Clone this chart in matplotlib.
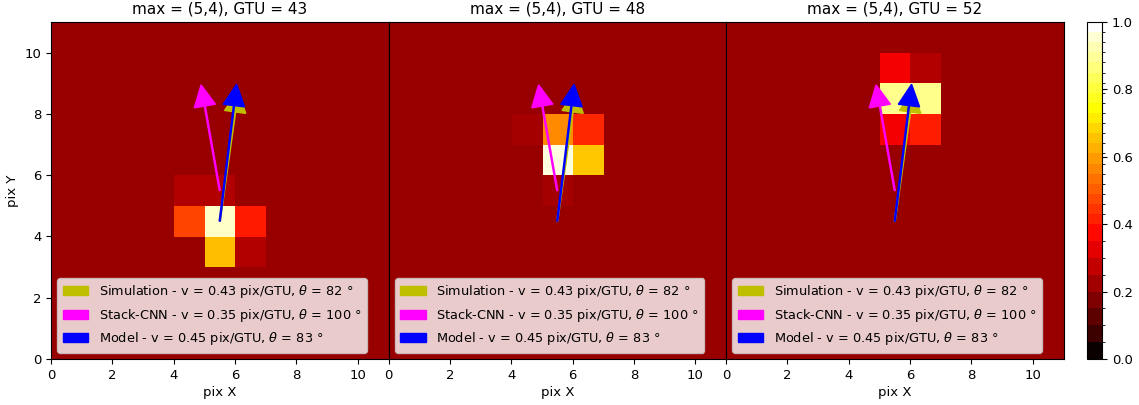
import numpy as np
import matplotlib
matplotlib.use("Agg")
import matplotlib.pyplot as plt
from matplotlib.colors import ListedColormap, BoundaryNorm
from matplotlib.cm import ScalarMappable

# ---- data ----
titles = ["max = (5,4), GTU = 43", "max = (5,4), GTU = 48", "max = (5,4), GTU = 52"]
grid_size = 11
background = 0.213
# (x, y, value) cells above background per panel
cells_43 = [(4, 5, 0.253), (5, 5, 0.253),
            (4, 4, 0.468), (5, 4, 0.945), (6, 4, 0.405),
            (5, 3, 0.649), (6, 3, 0.253)]
cells_48 = [(4, 7, 0.232), (5, 7, 0.574), (6, 7, 0.425),
            (5, 6, 0.965), (6, 6, 0.664),
            (5, 5, 0.232)]
cells_52 = [(5, 9, 0.350), (6, 9, 0.253),
            (5, 8, 0.885), (6, 8, 0.885),
            (5, 7, 0.350), (6, 7, 0.410)]
panels = [cells_43, cells_48, cells_52]

arrow_names = ["Simulation", "Stack-CNN", "Model"]
arrow_v = [0.43, 0.35, 0.45]          # pix/GTU
arrow_theta = [82, 100, 83]           # degrees
arrow_start_x = [5.5, 5.5, 5.5]
arrow_start_y = [4.5, 5.5, 4.5]
arrow_colors = ["y", "magenta", "blue"]
arrow_scale = 10.0

# colorbar boundaries (stepped)
cb_bounds = list(np.round(np.arange(0, 0.4001, 0.05), 3)) + \
            list(np.round(np.arange(0.43, 1.0001, 0.03), 3))

# ---- figure ----
W, H = 1139, 405
fig = plt.figure(figsize=(W / 100, H / 100), dpi=100)

left0 = 51 / W
pw = 337.5 / W
bottom = (H - 359) / H
ph = 337 / H

hot = plt.get_cmap("hot")
for i, cells in enumerate(panels):
    ax = fig.add_axes([left0 + i * pw, bottom, pw, ph])
    img = np.full((grid_size, grid_size), background)
    for (cx, cy, val) in cells:
        img[cy, cx] = val
    ax.imshow(img, cmap=hot, vmin=0, vmax=1, origin="lower",
              extent=[0, grid_size, 0, grid_size], interpolation="nearest",
              aspect="auto")
    handles = []
    for name, v, th, sx, sy, c in zip(arrow_names, arrow_v, arrow_theta,
                                      arrow_start_x, arrow_start_y, arrow_colors):
        L = v * arrow_scale
        dx = L * np.cos(np.deg2rad(th))
        dy = L * np.sin(np.deg2rad(th))
        h = ax.arrow(sx, sy, dx, dy, width=0.035, head_width=0.7, head_length=0.7,
                     length_includes_head=True, color=c,
                     label=f"{name} - v = {v:.2f} pix/GTU, $\\theta$ = {th} °")
        handles.append(h)
    ax.legend(handles=handles, loc="lower left", fontsize=9.3)
    ax.set_xlim(0, grid_size)
    ax.set_ylim(0, grid_size)
    ax.set_xticks([0, 2, 4, 6, 8, 10])
    ax.tick_params(labelsize=9.5)
    ax.set_title(titles[i], fontsize=11)
    ax.set_xlabel("pix X", fontsize=9.5, labelpad=3)
    if i == 0:
        ax.set_ylabel("pix Y", fontsize=9.5)
        ax.set_yticks([0, 2, 4, 6, 8, 10])
    else:
        ax.set_yticks([])

# stepped colorbar
centers = [(a + b) / 2 for a, b in zip(cb_bounds[:-1], cb_bounds[1:])]
centers[0] = 0.0
centers[-1] = 1.0
cb_cmap = ListedColormap([hot(c) for c in centers])
cb_norm = BoundaryNorm(cb_bounds, cb_cmap.N)
cax = fig.add_axes([1087 / W, bottom, 15 / W, ph])
sm = ScalarMappable(norm=cb_norm, cmap=cb_cmap)
cb = fig.colorbar(sm, cax=cax, spacing="proportional")
cb.set_ticks([0.0, 0.2, 0.4, 0.6, 0.8, 1.0])
cb.ax.tick_params(labelsize=9.5)

fig.savefig("out.png", dpi=100)
